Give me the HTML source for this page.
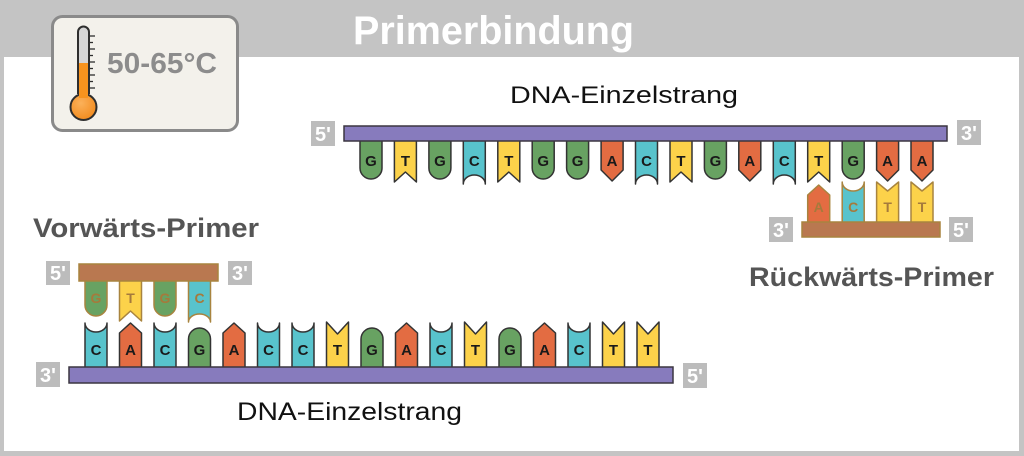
<!DOCTYPE html>
<html><head><meta charset="utf-8"><style>
html,body{margin:0;padding:0;background:#c4c4c4;}
svg{display:block;}
</style></head><body>
<svg width="1024" height="456" viewBox="0 0 1024 456" xmlns="http://www.w3.org/2000/svg" font-family="'Liberation Sans', Arial, sans-serif">
<defs>
<radialGradient id="bulb" cx="0.4" cy="0.35" r="0.7">
<stop offset="0" stop-color="#fbb15a"/><stop offset="1" stop-color="#f28a1c"/>
</radialGradient>
</defs>
<rect x="0" y="0" width="1024" height="456" fill="#c4c4c4"/>
<rect x="4" y="57" width="1015" height="394" fill="#ffffff"/>

<!-- Title -->
<text x="353" y="44" font-size="40" font-weight="bold" fill="#ffffff" textLength="281" lengthAdjust="spacingAndGlyphs">Primerbindung</text>

<!-- Thermometer box -->
<rect x="52.5" y="16.5" width="185" height="114" rx="10" ry="10" fill="#f3f1eb" stroke="#8a8a8a" stroke-width="3"/>
<text x="107" y="73" font-size="29" font-weight="bold" fill="#8c8c8c" textLength="110" lengthAdjust="spacingAndGlyphs">50-65°C</text>
<g>
<path d="M78 93 V32 A5.5 5.5 0 0 1 89 32 V93 Z" fill="#d5d5d5" stroke="#2e2e2e" stroke-width="2"/>
<rect x="79" y="63" width="9" height="35" fill="#f7931e"/>
<circle cx="83.5" cy="107" r="13" fill="url(#bulb)" stroke="#2e2e2e" stroke-width="2"/>
<rect x="79" y="90" width="9" height="8" fill="#f7931e"/>
<g stroke="#2e2e2e" stroke-width="1.3">
<line x1="89" y1="36" x2="95" y2="36"/><line x1="89" y1="42.5" x2="93" y2="42.5"/>
<line x1="89" y1="49" x2="95" y2="49"/><line x1="89" y1="55.5" x2="93" y2="55.5"/>
<line x1="89" y1="62" x2="95" y2="62"/><line x1="89" y1="68.5" x2="93" y2="68.5"/>
<line x1="89" y1="75" x2="95" y2="75"/><line x1="89" y1="81.5" x2="93" y2="81.5"/>
<line x1="89" y1="88" x2="95" y2="88"/>
</g>
</g>

<!-- Labels -->
<text x="510" y="103" font-size="24" fill="#111" textLength="228" lengthAdjust="spacingAndGlyphs">DNA-Einzelstrang</text>
<text x="237" y="420" font-size="25" fill="#111" textLength="225" lengthAdjust="spacingAndGlyphs">DNA-Einzelstrang</text>
<text x="33" y="237" font-size="27" font-weight="bold" fill="#555555" textLength="226" lengthAdjust="spacingAndGlyphs">Vorwärts-Primer</text>
<text x="749" y="286" font-size="27" font-weight="bold" fill="#555555" textLength="245" lengthAdjust="spacingAndGlyphs">Rückwärts-Primer</text>

<!-- Top template bases -->
<g stroke="#333" stroke-width="1.5" stroke-linejoin="round">
<path d="M360 140V168A11 11 0 0 0 382 168V140Z" fill="#68a262"/>
<path d="M394.4 140V182L405.4 172L416.4 182V140Z" fill="#fcd24a"/>
<path d="M428.9 140V168A11 11 0 0 0 450.9 168V140Z" fill="#68a262"/>
<path d="M463.3 140V184A11 9 0 0 1 485.3 184V140Z" fill="#58c3cc"/>
<path d="M497.8 140V182L508.8 172L519.8 182V140Z" fill="#fcd24a"/>
<path d="M532.2 140V168A11 11 0 0 0 554.2 168V140Z" fill="#68a262"/>
<path d="M566.6 140V168A11 11 0 0 0 588.6 168V140Z" fill="#68a262"/>
<path d="M601.1 140V170L612.1 181L623.1 170V140Z" fill="#e36c42"/>
<path d="M635.5 140V184A11 9 0 0 1 657.5 184V140Z" fill="#58c3cc"/>
<path d="M670 140V182L681 172L692 182V140Z" fill="#fcd24a"/>
<path d="M704.4 140V168A11 11 0 0 0 726.4 168V140Z" fill="#68a262"/>
<path d="M738.8 140V170L749.8 181L760.8 170V140Z" fill="#e36c42"/>
<path d="M773.3 140V184A11 9 0 0 1 795.3 184V140Z" fill="#58c3cc"/>
<path d="M807.7 140V182L818.7 172L829.7 182V140Z" fill="#fcd24a"/>
<path d="M842.2 140V168A11 11 0 0 0 864.2 168V140Z" fill="#68a262"/>
<path d="M876.6 140V170L887.6 181L898.6 170V140Z" fill="#e36c42"/>
<path d="M911 140V170L922 181L933 170V140Z" fill="#e36c42"/>
</g>
<g font-size="15" font-weight="bold" fill="#1a1a1a" text-anchor="middle">
<text x="371" y="166">G</text><text x="405.4" y="166">T</text><text x="439.9" y="166">G</text>
<text x="474.3" y="166">C</text><text x="508.8" y="166">T</text><text x="543.2" y="166">G</text>
<text x="577.6" y="166">G</text><text x="612.1" y="166">A</text><text x="646.5" y="166">C</text>
<text x="681" y="166">T</text><text x="715.4" y="166">G</text><text x="749.8" y="166">A</text>
<text x="784.3" y="166">C</text><text x="818.7" y="166">T</text><text x="853.2" y="166">G</text>
<text x="887.6" y="166">A</text><text x="922" y="166">A</text>
</g>
<rect x="344" y="126" width="603" height="15" fill="#877bbd" stroke="#3b3640" stroke-width="1.5"/>

<!-- Reverse primer -->
<g stroke="#a8843f" stroke-width="1.5" stroke-linejoin="round">
<path d="M807.7 223V195L818.7 185L829.7 195V223Z" fill="#e36c42"/>
<path d="M842.2 223V182A11 9 0 0 0 864.2 182V223Z" fill="#58c3cc"/>
<path d="M876.6 223V182L887.6 191L898.6 182V223Z" fill="#fcd24a"/>
<path d="M911 223V182L922 191L933 182V223Z" fill="#fcd24a"/>
</g>
<g font-size="14" font-weight="bold" fill="#a57a3c" text-anchor="middle">
<text x="818.7" y="212">A</text><text x="853.2" y="212">C</text>
<text x="887.6" y="212">T</text><text x="922" y="212">T</text>
</g>
<rect x="802" y="222" width="138" height="15" fill="#b97850" stroke="#a8843f" stroke-width="1.5"/>

<!-- Forward primer -->
<g stroke="#a8843f" stroke-width="1.5" stroke-linejoin="round">
<path d="M85 280V305A11 11 0 0 0 107 305V280Z" fill="#68a262"/>
<path d="M119.5 280V321L130.5 311L141.5 321V280Z" fill="#fcd24a"/>
<path d="M154 280V305A11 11 0 0 0 176 305V280Z" fill="#68a262"/>
<path d="M188.5 280V322A11 8 0 0 1 210.5 322V280Z" fill="#58c3cc"/>
</g>
<g font-size="14" font-weight="bold" fill="#a57a3c" text-anchor="middle">
<text x="96" y="303">G</text><text x="130.5" y="303">T</text>
<text x="165" y="303">G</text><text x="199.5" y="303">C</text>
</g>
<rect x="79" y="264" width="139" height="17" fill="#b97850" stroke="#a8843f" stroke-width="1.5"/>

<!-- Bottom template bases -->
<g stroke="#333" stroke-width="1.5" stroke-linejoin="round">
<path d="M85 368V323A11 9 0 0 0 107 323V368Z" fill="#58c3cc"/>
<path d="M119.5 368V333L130.5 323L141.5 333V368Z" fill="#e36c42"/>
<path d="M154 368V323A11 9 0 0 0 176 323V368Z" fill="#58c3cc"/>
<path d="M188.5 368V339A11 11 0 0 1 210.5 339V368Z" fill="#68a262"/>
<path d="M223 368V333L234 323L245 333V368Z" fill="#e36c42"/>
<path d="M257.5 368V323A11 9 0 0 0 279.5 323V368Z" fill="#58c3cc"/>
<path d="M292 368V323A11 9 0 0 0 314 323V368Z" fill="#58c3cc"/>
<path d="M326.5 368V322L337.5 334L348.5 322V368Z" fill="#fcd24a"/>
<path d="M361 368V339A11 11 0 0 1 383 339V368Z" fill="#68a262"/>
<path d="M395.5 368V333L406.5 323L417.5 333V368Z" fill="#e36c42"/>
<path d="M430 368V323A11 9 0 0 0 452 323V368Z" fill="#58c3cc"/>
<path d="M464.5 368V322L475.5 334L486.5 322V368Z" fill="#fcd24a"/>
<path d="M499 368V339A11 11 0 0 1 521 339V368Z" fill="#68a262"/>
<path d="M533.5 368V333L544.5 323L555.5 333V368Z" fill="#e36c42"/>
<path d="M568 368V323A11 9 0 0 0 590 323V368Z" fill="#58c3cc"/>
<path d="M602.5 368V322L613.5 334L624.5 322V368Z" fill="#fcd24a"/>
<path d="M637 368V322L648 334L659 322V368Z" fill="#fcd24a"/>
</g>
<g font-size="15" font-weight="bold" fill="#1a1a1a" text-anchor="middle">
<text x="96" y="355">C</text><text x="130.5" y="355">A</text><text x="165" y="355">C</text>
<text x="199.5" y="355">G</text><text x="234" y="355">A</text><text x="268.5" y="355">C</text>
<text x="303" y="355">C</text><text x="337.5" y="355">T</text><text x="372" y="355">G</text>
<text x="406.5" y="355">A</text><text x="441" y="355">C</text><text x="475.5" y="355">T</text>
<text x="510" y="355">G</text><text x="544.5" y="355">A</text><text x="579" y="355">C</text>
<text x="613.5" y="355">T</text><text x="648" y="355">T</text>
</g>
<rect x="69" y="367" width="604" height="16" fill="#877bbd" stroke="#3b3640" stroke-width="1.5"/>

<!-- End label boxes -->
<g fill="#bcbcbc">
<rect x="311" y="121" width="24" height="25"/><rect x="957" y="120" width="24" height="25"/>
<rect x="769" y="217" width="24" height="25"/><rect x="949" y="217" width="24" height="25"/>
<rect x="46" y="261" width="24" height="24"/><rect x="228" y="261" width="24" height="24"/>
<rect x="36" y="362" width="24" height="25"/><rect x="683" y="363" width="24" height="25"/>
</g>
<g font-size="20" font-weight="bold" fill="#ffffff" text-anchor="middle">
<text x="323" y="141">5'</text><text x="969" y="140">3'</text>
<text x="781" y="237">3'</text><text x="961" y="237">5'</text>
<text x="58" y="280">5'</text><text x="240" y="280">3'</text>
<text x="48" y="382">3'</text><text x="695" y="383">5'</text>
</g>
</svg>
</body></html>
